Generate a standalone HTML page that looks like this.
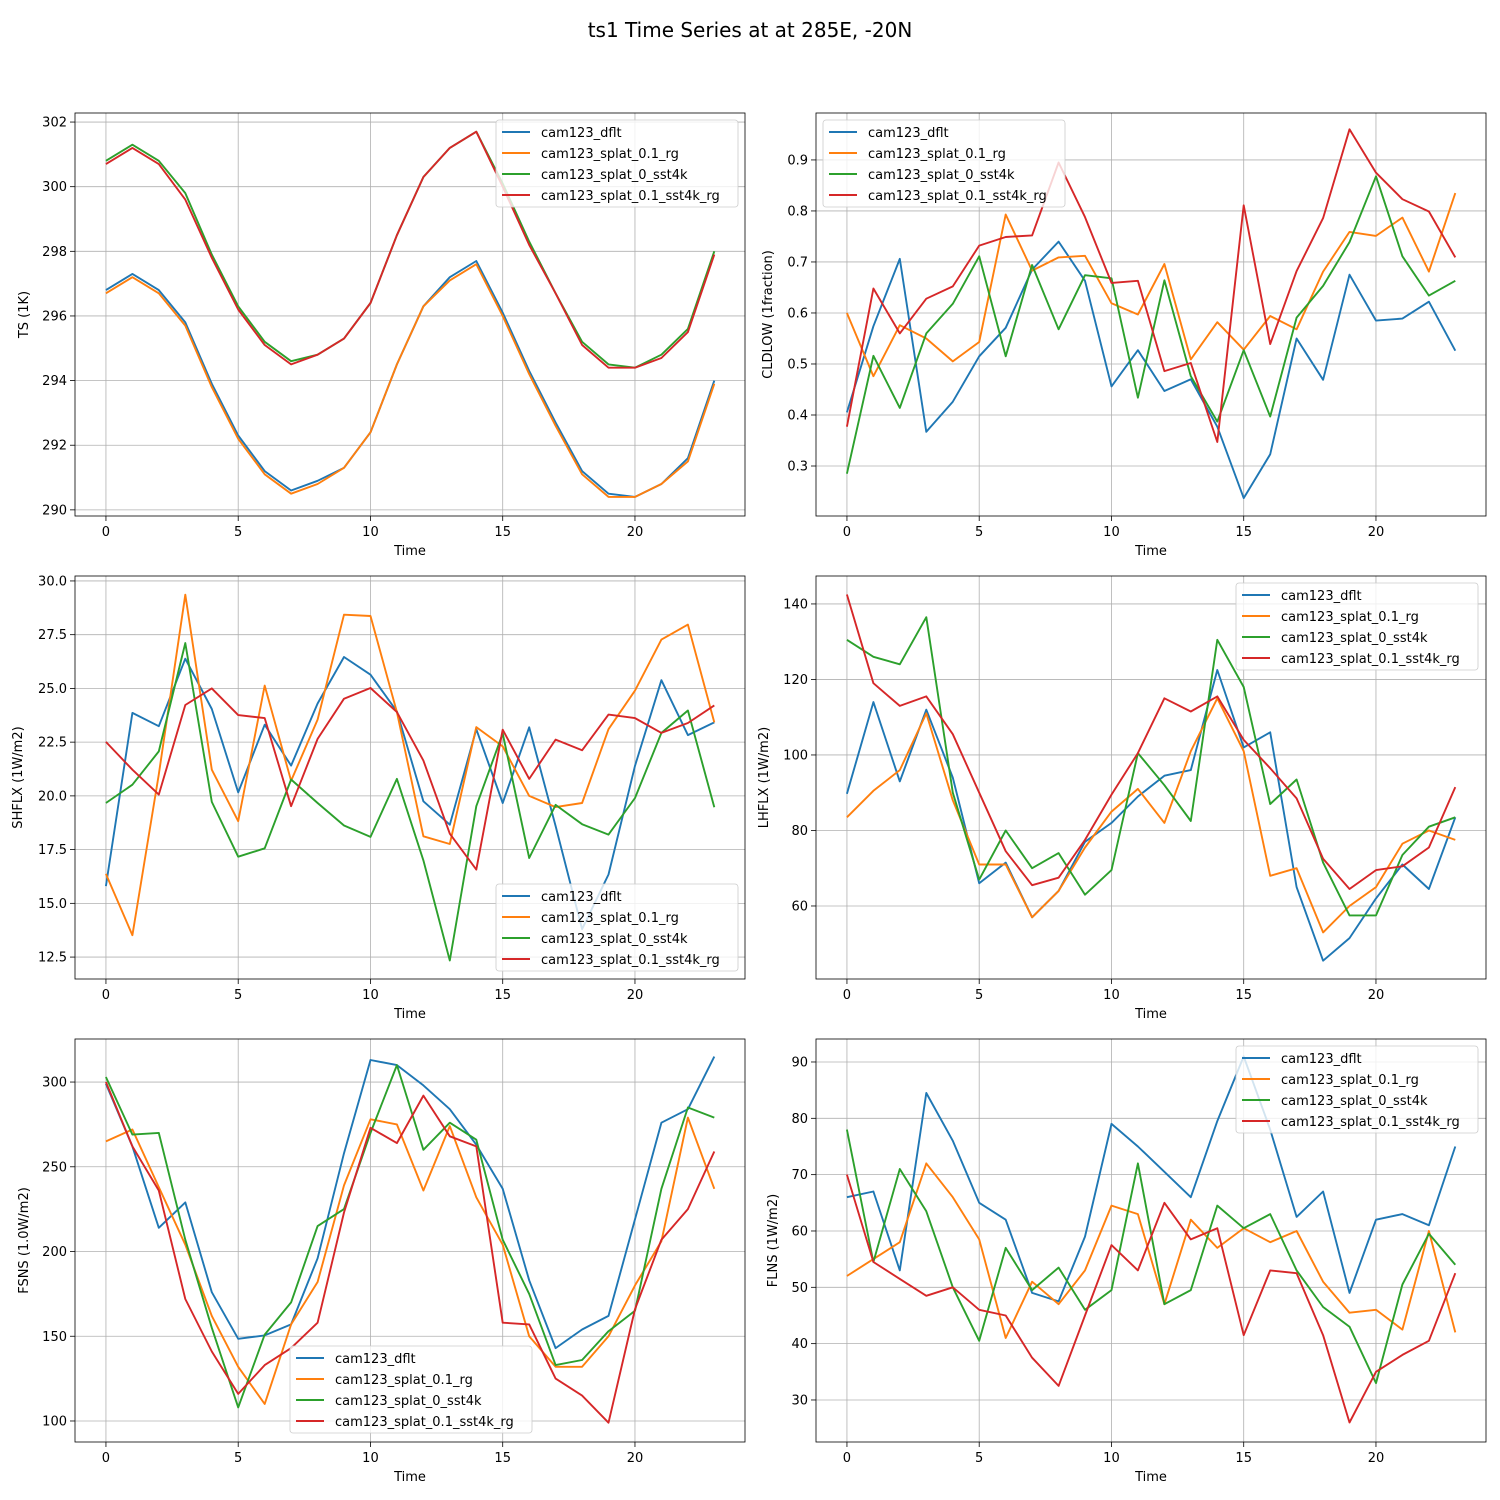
<!DOCTYPE html>
<html><head><meta charset="utf-8"><style>
html,body{margin:0;padding:0;background:#fff}
svg{display:block;font-family:"DejaVu Sans","Liberation Sans",sans-serif}
</style></head><body>
<svg id="fig" width="1500" height="1500" viewBox="0 0 1500 1500" xmlns="http://www.w3.org/2000/svg">
<text x="750" y="37" text-anchor="middle" font-size="20" fill="#000">ts1 Time Series at at 285E, -20N</text>
</svg>
<script>
const seriesNames = ["cam123_dflt","cam123_splat_0.1_rg","cam123_splat_0_sst4k","cam123_splat_0.1_sst4k_rg"];
const colors = ["#1f77b4","#ff7f0e","#2ca02c","#d62728"];
const xTicks = [0,5,10,15,20];

const tsDflt = [296.8,297.3,296.8,295.8,293.9,292.3,291.2,290.6,290.9,291.3,292.4,294.5,296.3,297.2,297.7,296.1,294.3,292.7,291.2,290.5,290.4,290.8,291.6,294.0];
const tsRg = [296.7,297.2,296.7,295.7,293.8,292.2,291.1,290.5,290.8,291.3,292.4,294.5,296.3,297.1,297.6,296.0,294.2,292.6,291.1,290.4,290.4,290.8,291.5,293.9];
const tsSst4k = [300.8,301.3,300.8,299.8,297.9,296.3,295.2,294.6,294.8,295.3,296.4,298.5,300.3,301.2,301.7,300.1,298.3,296.7,295.2,294.5,294.4,294.8,295.6,298.0];
const tsSst4kRg = [300.7,301.2,300.7,299.6,297.8,296.2,295.1,294.5,294.8,295.3,296.4,298.5,300.3,301.2,301.7,300.0,298.2,296.7,295.1,294.4,294.4,294.7,295.5,297.9];
const tsTicks = [290,292,294,296,298,300,302];

const clDflt = [0.405,0.574,0.706,0.367,0.426,0.515,0.571,0.685,0.74,0.663,0.456,0.527,0.447,0.47,0.377,0.237,0.323,0.55,0.469,0.675,0.585,0.589,0.622,0.526];
const clRg = [0.6,0.476,0.576,0.55,0.505,0.543,0.793,0.683,0.709,0.712,0.619,0.597,0.696,0.509,0.582,0.528,0.594,0.568,0.681,0.759,0.751,0.787,0.681,0.835];
const clSst4k = [0.285,0.516,0.414,0.56,0.618,0.711,0.515,0.694,0.568,0.674,0.668,0.434,0.664,0.476,0.387,0.527,0.397,0.591,0.653,0.739,0.868,0.711,0.634,0.663];
const clSst4kRg = [0.377,0.648,0.56,0.628,0.652,0.732,0.749,0.752,0.895,0.788,0.659,0.663,0.486,0.502,0.347,0.811,0.539,0.682,0.786,0.96,0.875,0.823,0.799,0.709];
const clTicks = [0.3,0.4,0.5,0.6,0.7,0.8,0.9];

const shDflt = [15.8,23.86,23.24,26.38,24.04,20.16,23.31,21.41,24.3,26.46,25.64,23.93,19.75,18.66,23.1,19.67,23.19,18.6,13.8,16.34,21.4,25.38,22.83,23.42];
const shRg = [16.37,13.52,21.0,29.36,21.22,18.82,25.13,20.7,23.55,28.43,28.37,23.9,18.12,17.76,23.2,22.3,20.0,19.48,19.67,23.1,24.9,27.27,27.97,23.42];
const shSst4k = [19.67,20.52,22.07,27.11,19.72,17.17,17.56,20.76,19.67,18.62,18.09,20.79,17.0,12.34,19.52,22.9,17.11,19.58,18.68,18.2,19.9,22.93,23.97,19.47];
const shSst4kRg = [22.51,21.22,20.06,24.23,25.0,23.76,23.62,19.52,22.65,24.52,25.02,23.9,21.64,18.24,16.57,23.08,20.79,22.62,22.12,23.78,23.62,22.93,23.39,24.21];
const shTicks = [12.5,15.0,17.5,20.0,22.5,25.0,27.5,30.0];

const lhDflt = [89.7,114,93,112,94,66,71.5,57,64,77,82,89,94.5,96,122.5,102,106,65,45.5,51.5,62,71,64.5,83.5];
const lhRg = [83.5,90.5,96,111,88,71,71,57,64,75.5,85,91,82,101,115,101,68,70,53,60,65,76.5,80,77.5];
const lhSst4k = [130.5,126,124,136.5,90,67,80,70,74,63,69.5,100.5,92,82.5,130.5,118,87,93.5,71.5,57.5,57.5,73.5,81,83.5];
const lhSst4kRg = [142.5,119,113,115.5,105.5,90,74.5,65.5,67.5,77.5,89.5,100.5,115,111.5,115.5,104,96.5,88.5,72.5,64.5,69.5,70.5,75.5,91.5];
const lhTicks = [60,80,100,120,140];

const fsDflt = [299,262,214,229,176,148.5,150.5,157,196,258,313,310,298,284,263,237,183,143,154,162,219,276,284,315];
const fsRg = [265,272,238,204,162,132,110,157,182,239,278,275,236,274,232,204,150,132,132,150,180,206,279,237];
const fsSst4k = [303,269,270,207,155,108,151,170,215,225,270,310,260,276,266,207,175,133,136,153,165,237,285,279];
const fsSst4kRg = [300,262,236,172,141,116,133,143,158,223,273,264,292,268,262,158,157,125,115,99,166,207,225,259];
const fsTicks = [100,150,200,250,300];

const flDflt = [66,67,53,84.5,76,65,62,49,47.5,59,79,75,70.5,66,79.5,91,78,62.5,67,49,62,63,61,75];
const flRg = [52,55,58,72,66,58.5,41,51,47,53,64.5,63,47,62,57,60.5,58,60,51,45.5,46,42.5,60,42];
const flSst4k = [78,54.5,71,63.5,50,40.5,57,49.5,53.5,46,49.5,72,47,49.5,64.5,60.5,63,53,46.5,43,33,50.5,59.5,54];
const flSst4kRg = [70,54.5,51.5,48.5,50,46,45,37.5,32.5,45,57.5,53,65,58.5,60.5,41.5,53,52.5,41.5,26,35,38,40.5,52.5];
const flTicks = [30,40,50,60,70,80,90];

const NS="http://www.w3.org/2000/svg";
const fig=document.getElementById('fig');
function mk(tag,attrs,parent){const e=document.createElementNS(NS,tag);for(const k in attrs)e.setAttribute(k,attrs[k]);(parent||fig).appendChild(e);return e;}

const panels=[
 {key:'ts',x0:75,y0:113,ymin:289.81,ymax:302.28,ticks:tsTicks,dec:0,label:'TS (1K)',lo:47,data:[tsDflt,tsRg,tsSst4k,tsSst4kRg],leg:[496,120]},
 {key:'cldlow',x0:816,y0:113,ymin:0.202,ymax:0.992,ticks:clTicks,dec:1,label:'CLDLOW (1fraction)',lo:44,data:[clDflt,clRg,clSst4k,clSst4kRg],leg:[823,120]},
 {key:'shflx',x0:75,y0:576,ymin:11.48,ymax:30.23,ticks:shTicks,dec:1,label:'SHFLX (1W/m2)',lo:53,data:[shDflt,shRg,shSst4k,shSst4kRg],leg:[496,884]},
 {key:'lhflx',x0:816,y0:576,ymin:40.66,ymax:147.4,ticks:lhTicks,dec:0,label:'LHFLX (1W/m2)',lo:48,data:[lhDflt,lhRg,lhSst4k,lhSst4kRg],leg:[1236,583]},
 {key:'fsns',x0:75,y0:1039,ymin:87.6,ymax:325.4,ticks:fsTicks,dec:0,label:'FSNS (1.0W/m2)',lo:47,data:[fsDflt,fsRg,fsSst4k,fsSst4kRg],leg:[290,1346]},
 {key:'flns',x0:816,y0:1039,ymin:22.54,ymax:94.08,ticks:flTicks,dec:0,label:'FLNS (1W/m2)',lo:39,data:[flDflt,flRg,flSst4k,flSst4kRg],leg:[1236,1046]}
];
const W=670,H=403,XMIN=-1.17,XMAX=24.16;

panels.forEach(p=>{
 const g=mk('g',{});
 
 
 const sx=v=>p.x0+(v-XMIN)/(XMAX-XMIN)*W;
 const sy=v=>p.y0+H-(v-p.ymin)/(p.ymax-p.ymin)*H;
 xTicks.forEach(t=>{
  const x=sx(t);
  const gl=mk('line',{x1:x,x2:x,y1:p.y0,y2:p.y0+H,stroke:'#b0b0b0','stroke-width':0.8},g);
  
  
  mk('line',{x1:x,x2:x,y1:p.y0+H,y2:p.y0+H+5,stroke:'#000','stroke-width':0.8},g);
  const tx=mk('text',{x:x,y:p.y0+H+20,'text-anchor':'middle','font-size':13},g);
  tx.textContent=t;
  
  
 });
 p.ticks.forEach(t=>{
  const y=sy(t);
  const gl=mk('line',{x1:p.x0,x2:p.x0+W,y1:y,y2:y,stroke:'#b0b0b0','stroke-width':0.8},g);
  
  
  mk('line',{x1:p.x0-5,x2:p.x0,y1:y,y2:y,stroke:'#000','stroke-width':0.8},g);
  const tx=mk('text',{x:p.x0-8,y:y+4.5,'text-anchor':'end','font-size':13},g);
  tx.textContent=t.toFixed(p.dec);
  
  
 });
 p.data.forEach((arr,i)=>{
  const pts=arr.map((v,j)=>sx(j).toFixed(1)+','+sy(v).toFixed(1)).join(' ');
  const pl=mk('polyline',{points:pts,fill:'none',stroke:colors[i],'stroke-width':1.9,'stroke-linejoin':'round'},g);
  
  
 });
 const fr=mk('rect',{x:p.x0,y:p.y0,width:W,height:H,fill:'none',stroke:'#000','stroke-width':0.8},g);
 
 
 const xl=mk('text',{x:p.x0+W/2,y:p.y0+H+39,'text-anchor':'middle','font-size':13},g);
 xl.textContent='Time';
 
 
 const ylx=p.x0-p.lo, yly=p.y0+H/2;
 const yl=mk('text',{x:ylx,y:yly,'text-anchor':'middle','font-size':13,transform:'rotate(-90 '+ylx+' '+yly+')'},g);
 yl.textContent=p.label;
 
 
 const lg=mk('g',{},g);
 
 
 const lx=p.leg[0],ly=p.leg[1];
 mk('rect',{x:lx,y:ly,width:242,height:87,rx:3,fill:'#fff','fill-opacity':0.8,stroke:'#cccccc','stroke-width':0.8},lg);
 seriesNames.forEach((n,i)=>{
  const yy=ly+12+i*21;
  const ln=mk('line',{x1:lx+6,x2:lx+34,y1:yy,y2:yy,stroke:colors[i],'stroke-width':1.9},lg);
  
  
  const t=mk('text',{x:lx+45,y:yy+5,'font-size':13},lg);
  t.textContent=n;
  
  
 });
});
</script>
</body></html>
